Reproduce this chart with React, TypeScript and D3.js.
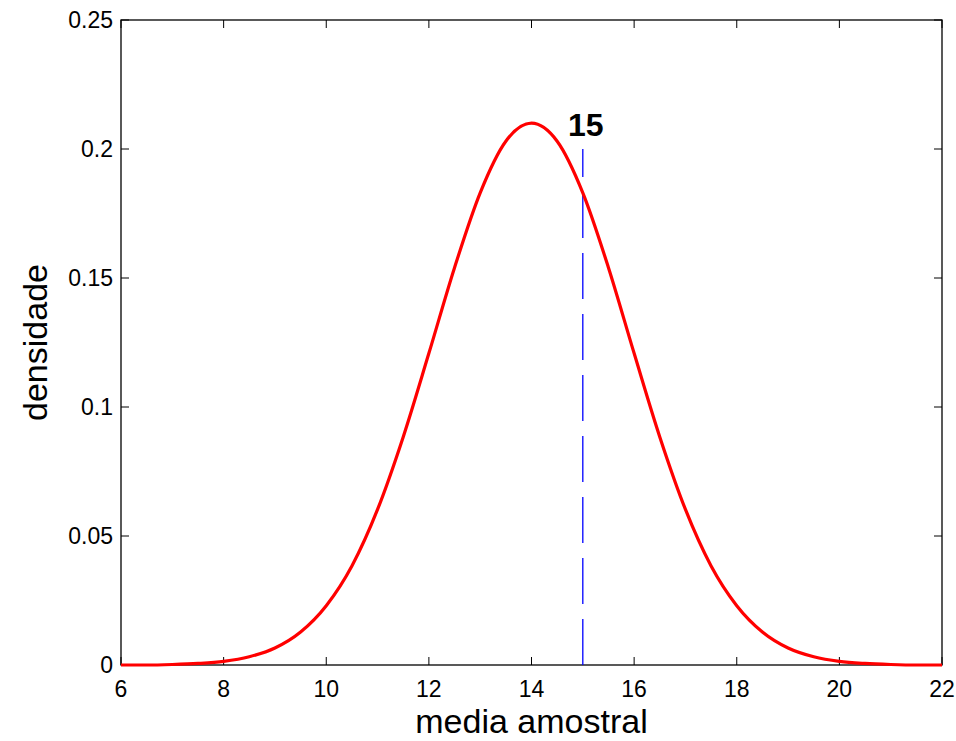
import React from 'react';
import * as d3 from 'd3';

// media amostral (eixo x) e densidade
const xs = [6, 6.5, 7, 7.5, 8, 8.5, 9, 9.5, 10, 10.5, 11, 11.5, 12, 12.5, 13, 13.5, 14,
  14.5, 15, 15.5, 16, 16.5, 17, 17.5, 18, 18.5, 19, 19.5, 20, 20.5, 21, 21.5, 22];
const densidade = [0, 0, 0.0002, 0.0006, 0.0014, 0.0032, 0.0066, 0.0128, 0.023, 0.0384,
  0.0603, 0.0884, 0.1208, 0.154, 0.183, 0.203, 0.21,
  0.203, 0.183, 0.154, 0.1208, 0.0884, 0.0603, 0.0384, 0.023, 0.0128, 0.0066, 0.0032,
  0.0014, 0.0006, 0.0002, 0, 0];
const xTicks = [6, 8, 10, 12, 14, 16, 18, 20, 22];
const yTicks = [0, 0.05, 0.1, 0.15, 0.2, 0.25];
const marca = 15;
const marcaTopo = 0.2;

const W = 956;
const H = 741;
const margin = { left: 121, top: 20, right: 14, bottom: 76 };

export default function App() {
  const x = d3.scaleLinear().domain([6, 22]).range([margin.left, W - margin.right]);
  const y = d3.scaleLinear().domain([0, 0.25]).range([H - margin.bottom, margin.top]);
  const x0 = x.range()[0], x1 = x.range()[1];
  const y0 = y.range()[0], y1 = y.range()[1];
  const tick = 8;

  const line = d3.line<number>()
    .x((_, i) => x(xs[i]))
    .y(d => y(d))
    .curve(d3.curveMonotoneX);

  const font = 'Arial, "Liberation Sans", sans-serif';

  return (
    <svg width={W} height={H} style={{ position: 'absolute', left: 0, top: 0, background: '#fff' }}
      fontFamily={font}>
      <rect x={0} y={0} width={W} height={H} fill="#fff" />
      {/* ticks nos quatro lados */}
      {xTicks.map(t => (
        <g key={'x' + t}>
          <line x1={x(t)} x2={x(t)} y1={y0} y2={y0 - tick} stroke="#000" strokeWidth={1} />
          <line x1={x(t)} x2={x(t)} y1={y1} y2={y1 + tick} stroke="#000" strokeWidth={1} />
          <text x={x(t)} y={y0 + 32} textAnchor="middle" fontSize={23} fill="#000">{t}</text>
        </g>
      ))}
      {yTicks.map(t => (
        <g key={'y' + t}>
          <line x1={x0} x2={x0 + tick} y1={y(t)} y2={y(t)} stroke="#000" strokeWidth={1} />
          <line x1={x1} x2={x1 - tick} y1={y(t)} y2={y(t)} stroke="#000" strokeWidth={1} />
          <text x={x0 - 8} y={y(t)} dy="0.36em" textAnchor="end" fontSize={23} fill="#000">{t}</text>
        </g>
      ))}
      <rect x={x0} y={y1} width={x1 - x0} height={y0 - y1} fill="none" stroke="#000" strokeWidth={1.3} />

      <line x1={x(marca)} x2={x(marca)} y1={y(0)} y2={y(marcaTopo)} stroke="#0000ff"
        strokeWidth={1.3} strokeDasharray="46,15" />
      <path d={line(densidade) || ''} fill="none" stroke="#ff0000" strokeWidth={3.2} />
      <text x={x(marca) + 3} y={136} textAnchor="middle" fontSize={32} fontWeight="bold" fill="#000">{marca}</text>

      <text x={(x0 + x1) / 2} y={733} textAnchor="middle" fontSize={34} fill="#000">media amostral</text>
      <text transform={`translate(47,${(y0 + y1) / 2}) rotate(-90)`} textAnchor="middle" fontSize={34}
        fill="#000">densidade</text>
    </svg>
  );
}
